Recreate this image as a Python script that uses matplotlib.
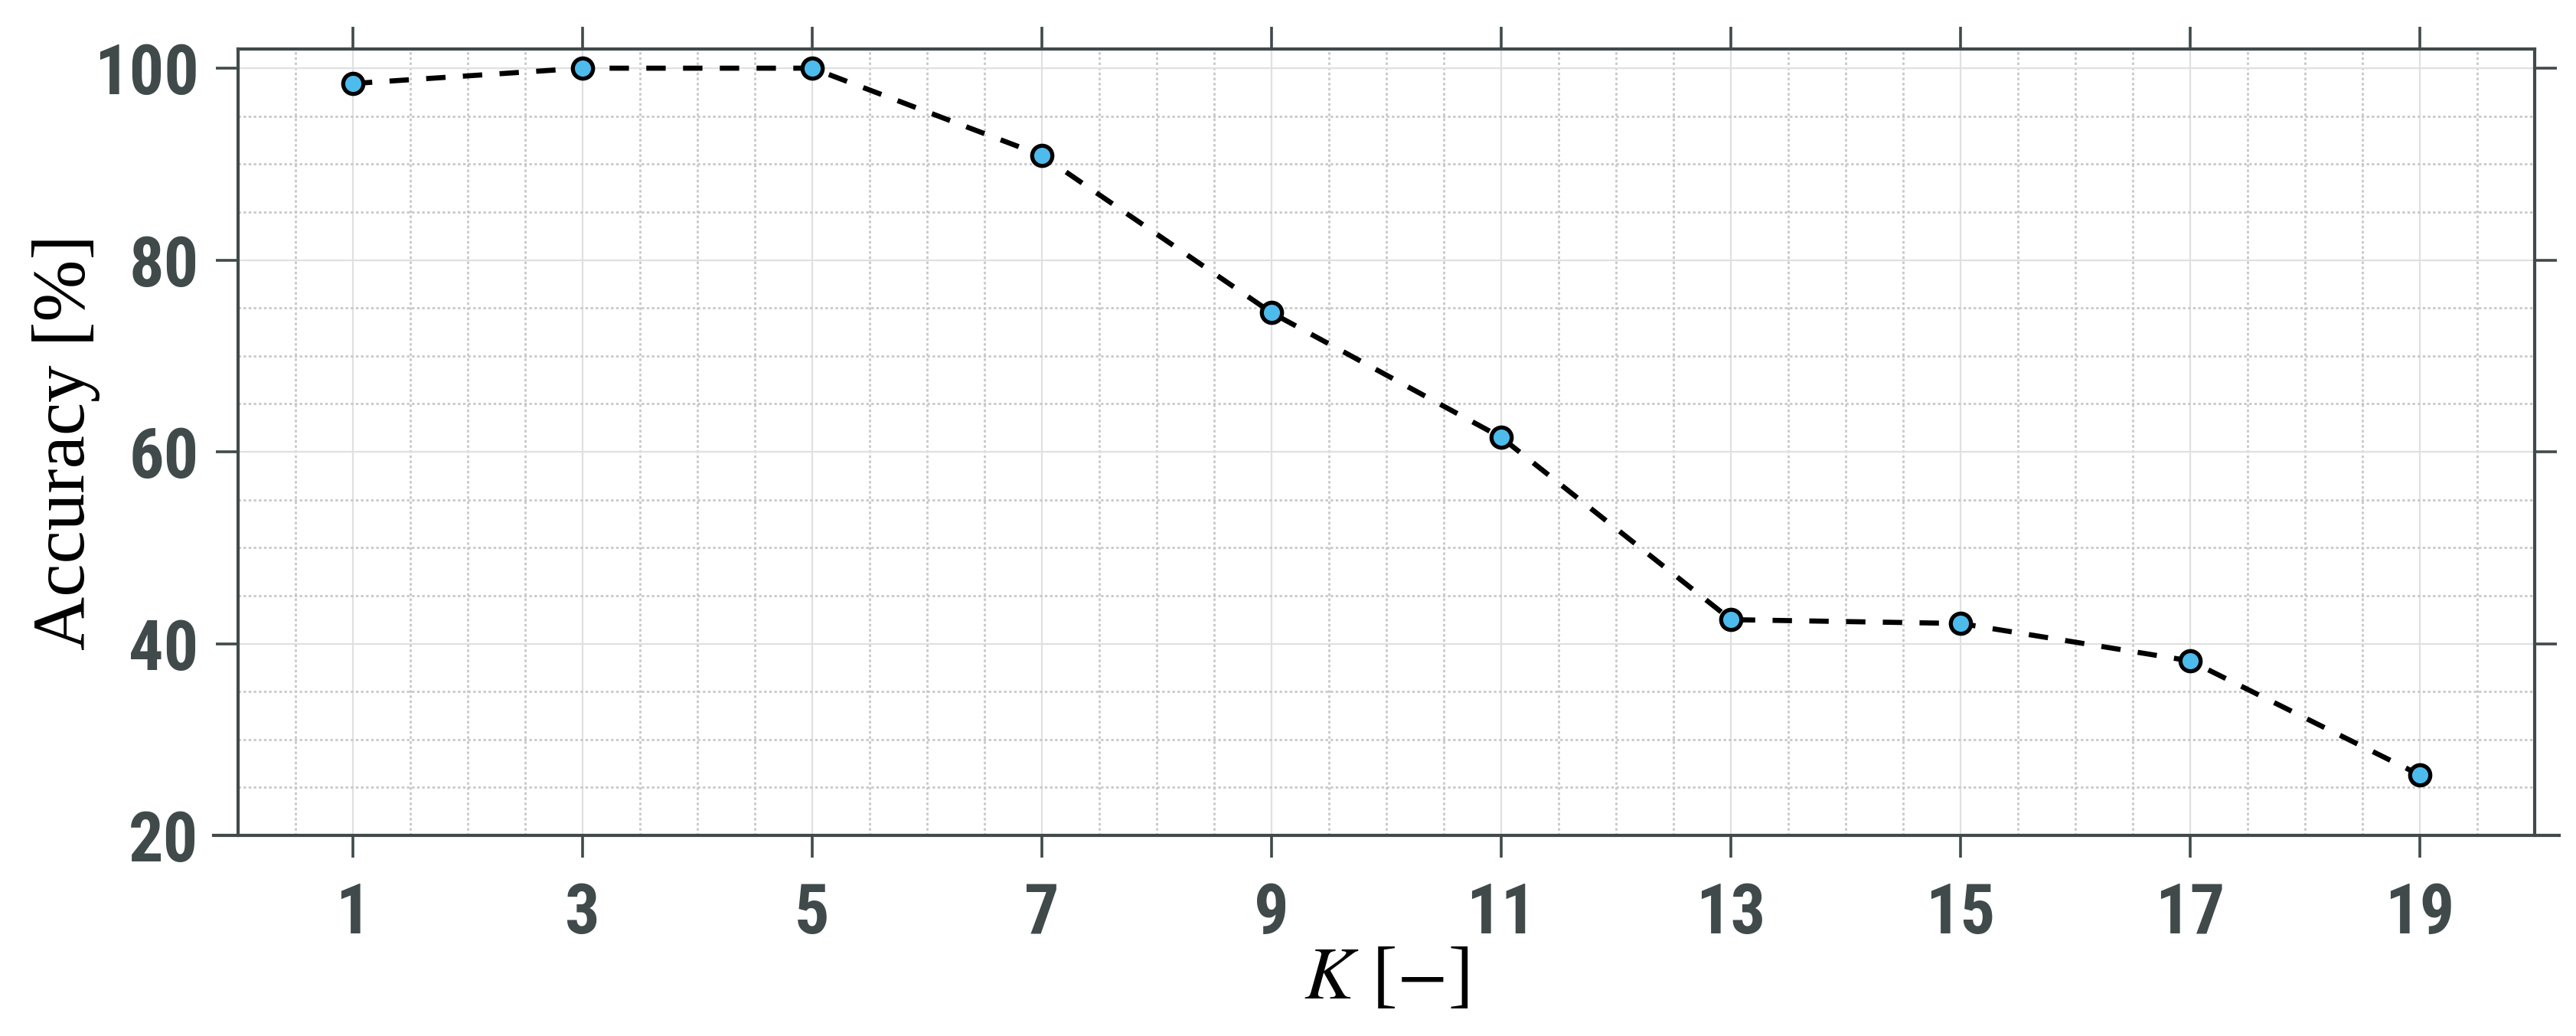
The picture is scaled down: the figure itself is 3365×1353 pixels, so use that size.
import numpy as np
import matplotlib
matplotlib.use("Agg")
import matplotlib.pyplot as plt
from matplotlib import font_manager
from matplotlib.ticker import MultipleLocator

# data
k_values = [1, 3, 5, 7, 9, 11, 13, 15, 17, 19]
accuracy = [98.4, 100.0, 100.0, 90.9, 74.5, 61.5, 42.5, 42.1, 38.2, 26.3]
x_ticks = [1, 3, 5, 7, 9, 11, 13, 15, 17, 19]
y_ticks = [20, 40, 60, 80, 100]

axis_color = '#414a4a'


def is_bold(f):
    w = f.weight
    if isinstance(w, str):
        return w in ('bold', 'heavy', 'extra bold', 'black', 'semibold', 'demibold')
    return w >= 600


def narrow_font():
    '''
    pick a condensed bold sans if one is installed
    '''
    found = []
    for f in font_manager.fontManager.ttflist:
        name = f.name.lower()
        cond = 'narrow' in name or 'condensed' in name or f.stretch not in ('normal', 400, 500)
        if cond and is_bold(f) and 'mono' not in name and 'serif' not in name.replace('sans serif', ''):
            found.append(f.name)
    for pref in ['Liberation Sans Narrow', 'Arial Narrow', 'Roboto Condensed', 'Open Sans Condensed',
                 'Noto Sans Condensed', 'DejaVu Sans Condensed']:
        if pref in found:
            return pref, 32.5
    if found:
        return found[0], 32.5
    return 'Liberation Sans', 29


def plot_accuracy() -> None:
    '''
    accuracy of the classifier against the number of neighbours K
    '''
    plt.rcParams['mathtext.fontset'] = 'stix'
    fig = plt.figure(figsize=(16.825, 6.765), dpi=200)
    ax = fig.add_axes([0.0924, 0.1936, 0.8916, 0.7591])

    ax.plot(k_values, accuracy, color='black', linestyle='--', dashes=(3.8, 3.4),
            linewidth=2.4, marker='o', markersize=9.5, markerfacecolor='#4dbbec',
            markeredgecolor='black', markeredgewidth=1.9, zorder=3)

    # limits and ticks
    ax.set_xlim(0, 20)
    ax.set_ylim(20, 102)
    ax.set_xticks(x_ticks)
    ax.set_yticks(y_ticks)
    ax.xaxis.set_minor_locator(MultipleLocator(0.5))
    ax.yaxis.set_minor_locator(MultipleLocator(5))

    # grid
    ax.grid(which='major', color='#e0e0e0', linestyle='-', linewidth=0.8, zorder=0)
    ax.grid(which='minor', color='#c8c8c8', linestyle=(0, (1.2, 1.2)), linewidth=1.0, zorder=0)
    ax.set_axisbelow(True)

    # spines, bottom one runs a bit past the box
    for side in ['left', 'right', 'top', 'bottom']:
        ax.spines[side].set_color(axis_color)
        ax.spines[side].set_linewidth(1.5)
    ax.spines['bottom'].set_bounds(-0.21, 20.21)

    ax.tick_params(which='major', direction='out', top=True, right=True,
                   length=10.5, width=1.3, color=axis_color, labelcolor=axis_color)
    ax.tick_params(which='minor', length=0)
    ax.tick_params(axis='x', pad=11)
    ax.tick_params(axis='y', pad=8)
    family, size = narrow_font()
    for lab in ax.get_xticklabels() + ax.get_yticklabels():
        lab.set_family([family, 'Liberation Sans'])
        lab.set_fontweight('bold')
        lab.set_fontsize(size)
        lab.set_stretch('condensed')

    # labels
    ax.set_xlabel(r'$K$ [$-$]', family='Liberation Serif', fontsize=35, labelpad=0)
    ax.set_ylabel('Accuracy [%]', family='Liberation Serif', fontsize=35)
    ax.yaxis.set_label_coords(-0.06, 0.5)

    fig.savefig('out.png', dpi=200)


def main():
    plot_accuracy()


if __name__ == "__main__":
    main()
